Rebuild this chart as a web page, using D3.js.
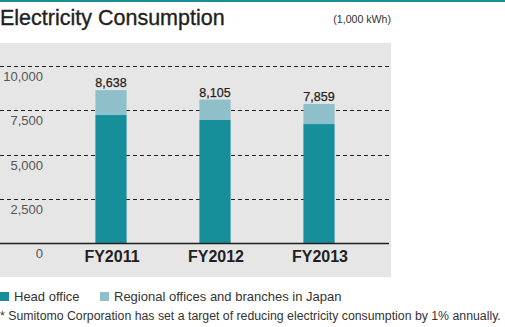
<!DOCTYPE html>
<html><head><meta charset="utf-8">
<script src="https://cdn.jsdelivr.net/npm/d3@7"></script>
<style>
html,body{margin:0;padding:0;background:#fff;}
svg{display:block;font-family:"Liberation Sans",Arial,sans-serif;}
</style></head>
<body><svg id="c" width="505" height="327"></svg>
<script>
const categories = ["FY2011","FY2012","FY2013"];
const headOffice = [7230, 6950, 6720];
const regional = [1408, 1155, 1139];
const totals = [8638, 8105, 7859];
const totalLabels = ["8,638","8,105","7,859"];
const yTicks = [0, 2500, 5000, 7500, 10000];
const seriesNames = ["Head office","Regional offices and branches in Japan"];
const colors = ["#178f9b","#8fc0c9"];

const svg = d3.select("#c");
svg.append("rect").attr("x",0).attr("y",0).attr("width",505).attr("height",2).attr("fill","#1a8f9a");
svg.append("text").attr("x",0).attr("y",25).attr("font-size",21.5).attr("fill","#231f20")
  .attr("stroke","#231f20").attr("stroke-width",0.35)
  .attr("font-family","'Liberation Sans',Arial,sans-serif").text("Electricity Consumption");
svg.append("text").attr("x",391).attr("y",23).attr("text-anchor","end").attr("font-size",10.6).attr("fill","#333").text("(1,000 kWh)");

svg.append("rect").attr("x",0).attr("y",43).attr("width",391).attr("height",234).attr("fill","#e6e6e6");

const y = d3.scaleLinear().domain([0,10000]).range([243,66]);
const x = d3.scaleBand().domain(categories).range([59,371]).paddingInner(0.7).paddingOuter(0.35);

const grid = svg.append("g");
yTicks.filter(t=>t>0).forEach(t=>{
  grid.append("line").attr("x1",0).attr("x2",389).attr("y1",Math.round(y(t))+0.5).attr("y2",Math.round(y(t))+0.5)
    .attr("stroke","#231f20").attr("stroke-width",1).attr("stroke-dasharray","4,3");
});
yTicks.forEach(t=>{
  svg.append("text").attr("x",43).attr("y",y(t)+15).attr("text-anchor","end").attr("font-size",13)
    .attr("fill","#555").text(d3.format(",")(t));
});

const stack = d3.stack().keys([0,1]).value((d,k)=>k===0?headOffice[d]:regional[d])(categories.map((c,i)=>i));
stack.forEach((layer,k)=>{
  svg.append("g").selectAll("rect").data(layer).join("rect")
    .attr("x",(d,i)=>x(categories[i])).attr("width",x.bandwidth())
    .attr("y",d=>y(d[1])).attr("height",d=>y(d[0])-y(d[1]))
    .attr("fill",colors[k]);
});
svg.append("line").attr("x1",0).attr("x2",389).attr("y1",243.5).attr("y2",243.5).attr("stroke","#231f20").attr("stroke-width",1.5);

categories.forEach((c,i)=>{
  svg.append("text").attr("x",x(c)+x.bandwidth()/2).attr("y",y(totals[i])-3).attr("text-anchor","middle")
    .attr("font-size",12.5).attr("font-family","'Liberation Sans Narrow','Liberation Sans',Arial,sans-serif")
    .attr("stroke","#231f20").attr("stroke-width",0.25)
    .attr("fill","#231f20").text(totalLabels[i]);
  svg.append("text").attr("x",x(c)+x.bandwidth()/2+1).attr("y",262).attr("text-anchor","middle")
    .attr("font-size",16).attr("font-weight","bold").attr("font-family","'Liberation Sans Narrow','Liberation Sans',Arial,sans-serif")
    .attr("fill","#231f20").text(c);
});

const lx = [0,100];
seriesNames.forEach((n,k)=>{
  svg.append("rect").attr("x",lx[k]).attr("y",292).attr("width",9).attr("height",9).attr("fill",colors[k]);
  svg.append("text").attr("x",lx[k]+14).attr("y",301).attr("font-size",13).attr("fill","#333").text(n);
});
svg.append("text").attr("x",0).attr("y",320).attr("font-size",12.3).attr("fill","#333")
  .text("* Sumitomo Corporation has set a target of reducing electricity consumption by 1% annually.");
</script></body></html>
